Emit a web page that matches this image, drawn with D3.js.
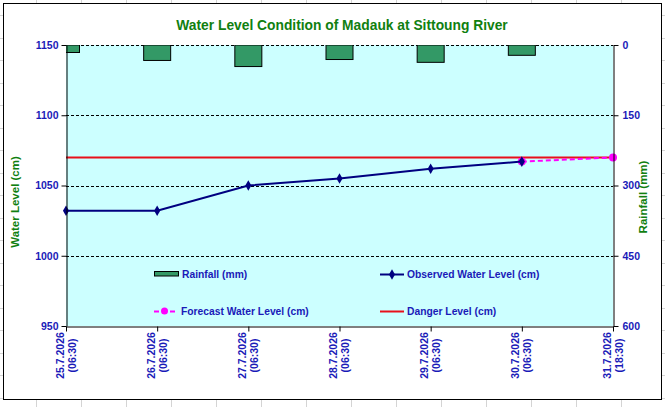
<!DOCTYPE html>
<html>
<head>
<meta charset="utf-8">
<script src="https://cdn.jsdelivr.net/npm/d3@7"></script>
<style>
  body { margin: 0; background: #fff; }
  text { font-family: "Liberation Sans", Arial, sans-serif; font-weight: bold; }
</style>
</head>
<body>
<div id="chart"></div>
<script>
// datos
var dates = ["25.7.2026", "26.7.2026", "27.7.2026", "28.7.2026", "29.7.2026", "30.7.2026", "31.7.2026"];
var times = ["(06:30)", "(06:30)", "(06:30)", "(06:30)", "(06:30)", "(06:30)", "(18:30)"];
var rainfall = [16, 33, 46, 31, 37, 22, 0];
var observed = [1032, 1032, 1050, 1055, 1062, 1067, null];
var forecast = [null, null, null, null, null, 1067, 1070];
var danger = [1070, 1070, 1070, 1070, 1070, 1070, 1070];
var levelTicks = [950, 1000, 1050, 1100, 1150];
var rainTicks = [0, 150, 300, 450, 600];

var W = 665, H = 407;
var plot = {left: 66, right: 613, top: 45, bottom: 326};

var svg = d3.select("#chart")
  .append("svg")
    .attr("width", W)
    .attr("height", H);

// rejilla de celdas de Excel al fondo
var cells = svg.append("g").attr("stroke", "#d4d4d4").attr("stroke-width", 1);
d3.range(36, W, 45).forEach(function(x) {
  cells.append("line").attr("x1", x + 0.5).attr("x2", x + 0.5).attr("y1", 0).attr("y2", H);
});
d3.range(15, H, 22.5).forEach(function(y) {
  cells.append("line").attr("x1", 0).attr("x2", W).attr("y1", Math.round(y) + 0.5).attr("y2", Math.round(y) + 0.5);
});

// marco del gráfico
svg.append("rect")
  .attr("x", 3.5).attr("y", 3.5)
  .attr("width", 658).attr("height", 396)
  .attr("fill", "#fff")
  .attr("stroke", "#000")
  .attr("stroke-width", 1);

// escalas
var x = d3.scalePoint()
  .domain(d3.range(dates.length))
  .range([plot.left, plot.right]);

var y = d3.scaleLinear()
  .domain([950, 1150])
  .range([plot.bottom, plot.top]);

var yr = d3.scaleLinear()
  .domain([0, 600])
  .range([plot.top, plot.bottom]);

// fondo del área de trazado
svg.append("rect")
  .attr("x", plot.left).attr("y", plot.top)
  .attr("width", plot.right - plot.left)
  .attr("height", plot.bottom - plot.top)
  .attr("fill", "#ccffff");

svg.append("clipPath").attr("id", "clip")
  .append("rect")
    .attr("x", plot.left).attr("y", plot.top)
    .attr("width", plot.right - plot.left)
    .attr("height", plot.bottom - plot.top);

// líneas de rejilla discontinuas
svg.append("g")
  .selectAll("line")
  .data(levelTicks.slice(1))
  .enter()
  .append("line")
    .attr("x1", plot.left).attr("x2", plot.right)
    .attr("y1", function(d) { return Math.round(y(d)) + 0.5; })
    .attr("y2", function(d) { return Math.round(y(d)) + 0.5; })
    .attr("stroke", "#000")
    .attr("stroke-dasharray", "3,2");

// barras de lluvia colgando desde arriba
svg.append("g")
  .attr("clip-path", "url(#clip)")
  .selectAll("rect")
  .data(rainfall)
  .enter()
  .append("rect")
    .attr("x", function(d, i) { return x(i) - 13.5; })
    .attr("y", yr(0))
    .attr("width", 27)
    .attr("height", function(d) { return yr(d) - yr(0); })
    .attr("fill", "#339966")
    .attr("stroke", "#000")
    .attr("stroke-width", 1)
    .style("display", function(d) { return d > 0 ? null : "none"; });

// nivel de peligro
var line = d3.line()
  .defined(function(d) { return d != null; })
  .x(function(d, i) { return x(i); })
  .y(function(d) { return y(d); });

svg.append("path")
  .datum(danger)
  .attr("d", line)
  .attr("fill", "none")
  .attr("stroke", "#e8101a")
  .attr("stroke-width", 2);

// pronóstico
svg.append("path")
  .datum(forecast)
  .attr("d", line)
  .attr("fill", "none")
  .attr("stroke", "#ff00ff")
  .attr("stroke-width", 2)
  .attr("stroke-dasharray", "5,3");

svg.append("g")
  .selectAll("circle")
  .data(forecast.map(function(d, i) { return {v: d, i: i}; }).filter(function(d) { return d.v != null; }))
  .enter()
  .append("circle")
    .attr("cx", function(d) { return x(d.i); })
    .attr("cy", function(d) { return y(d.v); })
    .attr("r", 4)
    .attr("fill", "#ff00ff");

// nivel observado
svg.append("path")
  .datum(observed)
  .attr("d", line)
  .attr("fill", "none")
  .attr("stroke", "#000080")
  .attr("stroke-width", 2);

var diamond = d3.symbol().type(d3.symbolDiamond).size(32);
svg.append("g")
  .selectAll("path")
  .data(observed.map(function(d, i) { return {v: d, i: i}; }).filter(function(d) { return d.v != null; }))
  .enter()
  .append("path")
    .attr("d", diamond)
    .attr("transform", function(d) { return "translate(" + x(d.i) + "," + y(d.v) + ")"; })
    .attr("fill", "#000080");

// ejes
var tickBlue = "#1a1ab8";
var axisL = svg.append("g")
  .attr("transform", "translate(" + (plot.left + 0.5) + ",0)")
  .call(d3.axisLeft(y).tickValues(levelTicks).tickFormat(d3.format("d"))
    .tickSizeInner(5).tickSizeOuter(0).tickPadding(3));
var axisR = svg.append("g")
  .attr("transform", "translate(" + (plot.right + 0.5) + ",0)")
  .call(d3.axisRight(yr).tickValues(rainTicks).tickFormat(d3.format("d"))
    .tickSizeInner(5).tickSizeOuter(0).tickPadding(4));
var axisB = svg.append("g")
  .attr("transform", "translate(0," + (plot.bottom + 0.5) + ")")
  .call(d3.axisBottom(x).tickSizeInner(5).tickSizeOuter(0).tickFormat(""));

[axisL, axisR, axisB].forEach(function(a) {
  a.select(".domain").attr("stroke", "#000");
  a.selectAll(".tick line").attr("stroke", "#000");
  a.selectAll(".tick text")
    .attr("fill", tickBlue)
    .style("font-size", "10.5px")
    .style("font-family", "'Liberation Sans', Arial, sans-serif")
    .style("font-weight", "bold");
});

// etiquetas de fecha giradas
var xl = svg.append("g")
  .selectAll("text")
  .data(dates)
  .enter()
  .append("text")
    .attr("transform", function(d, i) { return "translate(" + x(i) + ",355.5) rotate(-90)"; })
    .attr("text-anchor", "middle")
    .attr("fill", tickBlue)
    .style("font-size", "10.5px");
xl.append("tspan").attr("x", 0).attr("y", -2.5).text(function(d) { return d; });
xl.append("tspan").attr("x", 0).attr("y", 9.5).text(function(d, i) { return times[i]; });

// título
svg.append("text")
  .attr("x", 342)
  .attr("y", 30)
  .attr("text-anchor", "middle")
  .attr("fill", "#108010")
  .style("font-size", "13.8px")
  .text("Water Level Condition of Madauk at Sittoung River");

svg.append("text")
  .attr("transform", "translate(19,202) rotate(-90)")
  .attr("text-anchor", "middle")
  .attr("fill", "#108010")
  .style("font-size", "11.5px")
  .text("Water Level (cm)");

svg.append("text")
  .attr("transform", "translate(647,197) rotate(-90)")
  .attr("text-anchor", "middle")
  .attr("fill", "#108010")
  .style("font-size", "11.5px")
  .text("Rainfall (mm)");

// leyenda
var leg = svg.append("g").attr("fill", tickBlue).style("font-size", "10.3px");

svg.append("rect")
  .attr("x", 154.5).attr("y", 271.5).attr("width", 24).attr("height", 4.5)
  .attr("fill", "#339966").attr("stroke", "#000");
leg.append("text").attr("x", 182).attr("y", 278).text("Rainfall (mm)");

svg.append("line")
  .attr("x1", 380).attr("x2", 404).attr("y1", 274.5).attr("y2", 274.5)
  .attr("stroke", "#000080").attr("stroke-width", 2);
svg.append("path")
  .attr("d", diamond)
  .attr("transform", "translate(392,274.5)")
  .attr("fill", "#000080");
leg.append("text").attr("x", 407).attr("y", 278).text("Observed Water Level (cm)");

svg.append("line")
  .attr("x1", 154).attr("x2", 176).attr("y1", 311.5).attr("y2", 311.5)
  .attr("stroke", "#ff00ff").attr("stroke-width", 2).attr("stroke-dasharray", "5,3");
svg.append("circle")
  .attr("cx", 164.5).attr("cy", 311).attr("r", 3.5)
  .attr("fill", "#ff00ff");
leg.append("text").attr("x", 181).attr("y", 315).text("Forecast Water Level (cm)");

svg.append("line")
  .attr("x1", 380).attr("x2", 404).attr("y1", 311.5).attr("y2", 311.5)
  .attr("stroke", "#e8101a").attr("stroke-width", 2);
leg.append("text").attr("x", 407).attr("y", 315).text("Danger Level (cm)");
</script>
</body>
</html>
